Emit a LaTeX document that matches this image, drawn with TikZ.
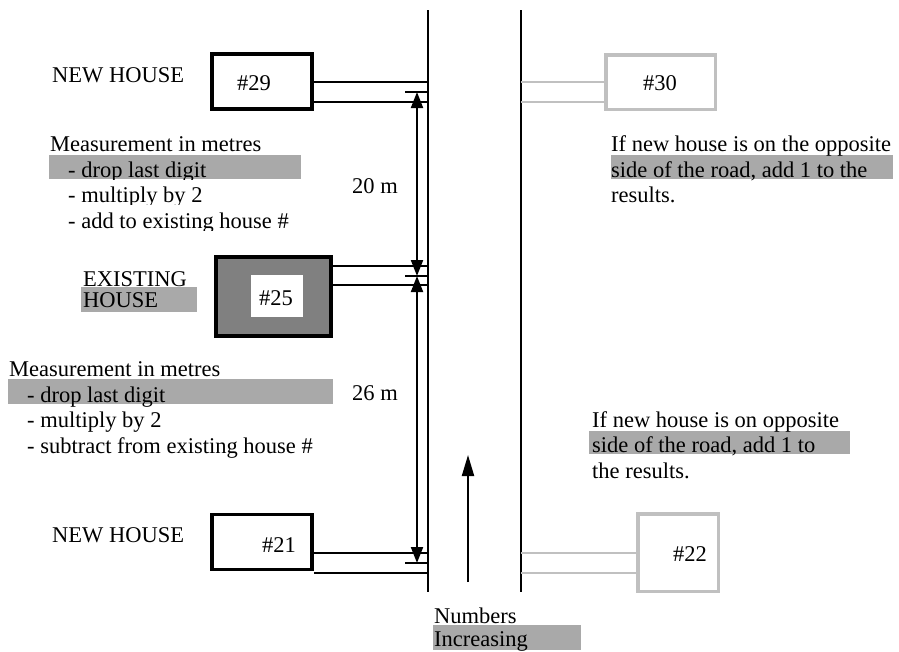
\documentclass[tikz,border=0pt]{standalone}
\usepackage{fontspec}
\setmainfont{Liberation Serif}
\usetikzlibrary{arrows.meta}
\definecolor{band}{HTML}{A9A9A9}
\definecolor{lightgr}{HTML}{C0C0C0}
\definecolor{midgr}{HTML}{808080}
\begin{document}
\begin{tikzpicture}[x=1pt,y=-1pt,
  txt/.style={font=\fontsize{22.5}{26}\selectfont, inner sep=0pt, anchor=base west},
  ctxt/.style={font=\fontsize{22.5}{26}\selectfont, inner sep=0pt, anchor=base},
  newbox/.style={draw=black, line width=3.5pt, minimum width=100pt, minimum height=55pt, inner sep=0pt},
  oppbox/.style={draw=lightgr, line width=3.5pt, inner sep=0pt},
  road/.style={line width=2pt},
  conn/.style={line width=2pt},
  oppconn/.style={line width=2pt, draw=lightgr},
  tickline/.style={line width=2pt},
  dimarrow/.style={line width=2pt, {Triangle[width=12pt,length=16pt]}-{Triangle[width=12pt,length=16pt]}}
]
\useasboundingbox (0,0) rectangle (899,651);

% highlight bands
\fill[band] (49,155) rectangle (301,179);
\fill[band] (8,379) rectangle (333,404);
\fill[band] (81,287) rectangle (197,312);
\fill[band] (611,155) rectangle (893,179);
\fill[band] (589,431) rectangle (850,454);
\fill[band] (433,625) rectangle (581,650);

% road
\coordinate (rLt) at (428,10); \coordinate (rLb) at (428,592);
\coordinate (rRt) at (521,10); \coordinate (rRb) at (521,592);
\draw[road] (rLt) -- (rLb);
\draw[road] (rRt) -- (rRb);

% houses
\node[newbox] (h29) at (262,81.5) {};
\node[ctxt] (t29) at (254,90) {\#29};
\node[draw=black, line width=4pt, fill=midgr, minimum width=115pt, minimum height=79pt, inner sep=0pt] (h25) at (273.5,296.5) {};
\node[fill=white, minimum width=52pt, minimum height=42pt, inner sep=0pt] (in25) at (277,296) {};
\node[ctxt] (t25) at (276,305) {\#25};
\node[newbox] (h21) at (262,542) {};
\node[ctxt] (t21) at (279,552) {\#21};
\node[oppbox, minimum width=109.5pt, minimum height=54.5pt] (h30) at (660.5,82) {};
\node[ctxt] (t30) at (660,90) {\#30};
\node[oppbox, minimum width=80.5pt, minimum height=77.5pt] (h22) at (678,552.5) {};
\node[ctxt] (t22) at (690,561) {\#22};

% connectors
\draw[conn] (h29.east |- 0,82) -- (rLt |- 0,82);
\draw[conn] (h29.east |- 0,102) -- (rLt |- 0,102);
\draw[conn] (h25.east |- 0,266) -- (rLt |- 0,266);
\draw[conn] (h25.east |- 0,285) -- (rLt |- 0,285);
\draw[conn] (h21.east |- 0,553) -- (rLt |- 0,553);
\draw[conn] (h21.east |- 0,573) -- (rLt |- 0,573);
\draw[oppconn] (rRt |- 0,82) -- (h30.west |- 0,82);
\draw[oppconn] (rRt |- 0,102) -- (h30.west |- 0,102);
\draw[oppconn] (rRt |- 0,553) -- (h22.west |- 0,553);
\draw[oppconn] (rRt |- 0,573) -- (h22.west |- 0,573);

% dimension ticks and arrows
\coordinate (d1) at (417,92);
\coordinate (d2) at (417,276);
\coordinate (d3) at (417,563);
\draw[tickline] ([xshift=-12pt]d1) -- (rLt |- d1);
\draw[tickline] ([xshift=-12pt]d2) -- (rLt |- d2);
\draw[tickline] ([xshift=-12pt]d3) -- (rLt |- d3);
\draw[dimarrow] (d1) -- (d2);
\draw[dimarrow] (d2) -- (d3);

% numbers increasing arrow
\coordinate (nb) at (468,582);
\coordinate (nt) at (468,455);
\draw[line width=2pt, -{Triangle[width=12pt,length=21pt]}] (nb) -- (nt);

% texts
\node[txt] (nh1) at (52,82) {NEW HOUSE};
\node[txt] (m1a) at (50,151) {Measurement in metres};
\begin{scope}\clip (0,0) rectangle (899,179);
\node[txt] (m1b) at (68,177) {- drop last digit};
\end{scope}
\begin{scope}\clip (0,0) rectangle (899,204);
\node[txt] (m1c) at (68,202) {- multiply by 2};
\end{scope}
\begin{scope}\clip (0,0) rectangle (899,230);
\node[txt] (m1d) at (68,228) {- add to existing house \#};
\end{scope}
\node[txt] (l20) at (352,193) {20 m};
\node[txt] (ex1) at (83,286) {EXISTING};
\node[txt] (ex2) at (83,307) {HOUSE};
\node[txt] (m2a) at (9,376) {Measurement in metres};
\node[txt] (m2b) at (27,402) {- drop last digit};
\node[txt] (m2c) at (27,427) {- multiply by 2};
\node[txt] (m2d) at (27,453) {- subtract from existing house \#};
\node[txt] (l26) at (352,400) {26 m};
\node[txt] (nh2) at (52,542) {NEW HOUSE};
\node[txt] (o1a) at (611,151) {If new house is on the opposite};
\node[txt] (o1b) at (611,177) {side of the road, add 1 to the};
\node[txt] (o1c) at (611,202) {results.};
\node[txt] (o2a) at (592,427) {If new house is on opposite};
\node[txt] (o2b) at (592,452) {side of the road, add 1 to};
\node[txt] (o2c) at (592,478) {the results.};
\node[txt] (ni1) at (434,623) {Numbers};
\node[txt] (ni2) at (434,646) {Increasing};
\end{tikzpicture}
\end{document}
